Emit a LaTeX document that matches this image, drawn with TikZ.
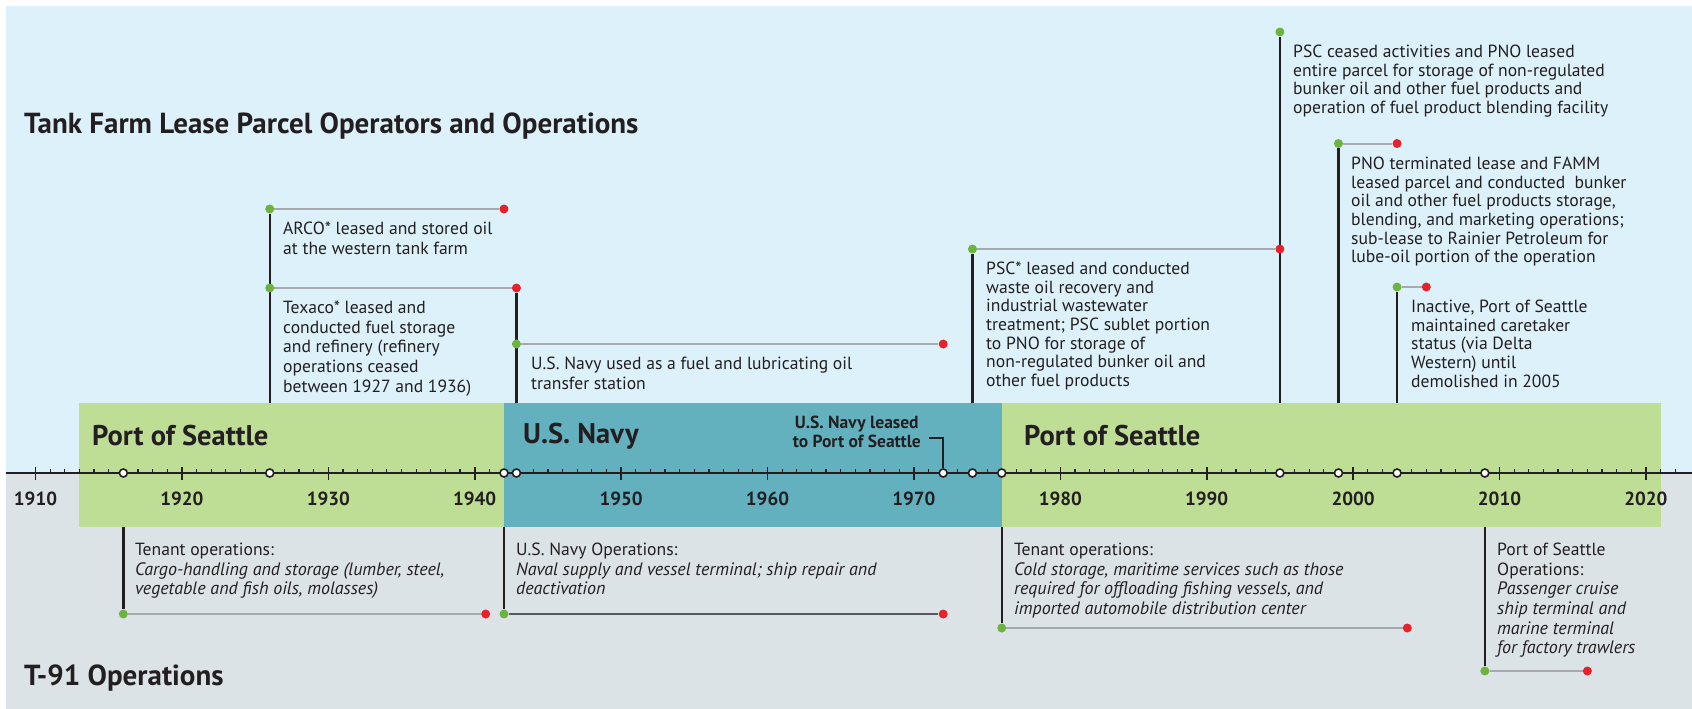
\documentclass[tikz,border=0pt]{standalone}
\usepackage{fontspec}
\setmainfont{PT Sans}
\pgfdeclarelayer{back}
\pgfdeclarelayer{links}
\pgfdeclarelayer{band}
\pgfdeclarelayer{axis}
\pgfsetlayers{back,links,band,axis,main}
\definecolor{skyback}{HTML}{DDF1FA}
\definecolor{greyback}{HTML}{DCE3E7}
\definecolor{portgreen}{HTML}{BEDD95}
\definecolor{navyteal}{HTML}{63B0BF}
\definecolor{dotgreen}{HTML}{6DB33F}
\definecolor{dotred}{HTML}{E8202A}
\definecolor{linkgrey}{HTML}{A7A9AC}
\definecolor{navylink}{HTML}{58595B}
\definecolor{ink}{HTML}{231F20}
% horizontal position of a year on the time axis
\newcommand\yx[1]{(35.5+14.64*(#1-1910))}
% italic description lines of the operations
\newcommand\opit[1]{{\fontsize{18}{19.6}\selectfont\itshape #1}}
\begin{document}
\begin{tikzpicture}[x=1pt,y=-1pt,
  vline/.style={line width=2.4pt, draw=ink},
  hline/.style={line width=2pt, draw=linkgrey},
  navyline/.style={line width=1.6pt, draw=navylink},
  gdot/.style={circle, fill=dotgreen, inner sep=0pt, minimum size=9pt},
  rdot/.style={circle, fill=dotred, inner sep=0pt, minimum size=9pt},
  odot/.style={circle, draw=ink, fill=white, line width=1.6pt, inner sep=0pt, minimum size=8pt},
  note/.style={anchor=north west, inner sep=0pt, align=left, text=ink,
    font=\fontsize{17.6}{19.6}\selectfont},
  tightnote/.style={note, font=\fontsize{17.6}{18.6}\selectfont},
  heading/.style={anchor=west, inner sep=0pt, text=ink,
    font=\fontsize{29}{34}\bfseries},
  bandlbl/.style={anchor=west, inner sep=0pt, text=ink,
    font=\fontsize{28.5}{34}\bfseries},
  yearlbl/.style={inner sep=0pt, text=ink, font=\fontsize{19}{22}\bfseries},
]
\useasboundingbox (0,0) rectangle (1692,709);

% backgrounds
\begin{pgfonlayer}{back}
  \fill[white] (0,0) rectangle (1692,709);
  \fill[skyback] (6,6) rectangle (1692,473);
  \fill[greyback] (6,473) rectangle (1692,709);
\end{pgfonlayer}

% ownership bands
\begin{pgfonlayer}{band}
  \fill[portgreen] ({\yx{1913}},403) rectangle ({\yx{1942}},527);
  \fill[navyteal] ({\yx{1942}},403) rectangle ({\yx{1976}},527);
  \fill[portgreen] ({\yx{1976}},403) rectangle ({\yx{2021}},527);
\end{pgfonlayer}

% time axis with yearly ticks
\begin{pgfonlayer}{axis}
  \draw[line width=2.4pt, ink] (6,473) -- (1692,473);
  \foreach \k in {1910,...,2022}
    \draw[line width=1.2pt, ink] ({\yx{\k}},473) -- ({\yx{\k}},468.5);
  \foreach \k in {1910,1920,...,2020}
    \draw[line width=1.6pt, ink] ({\yx{\k}},467) -- ({\yx{\k}},479.5);
\end{pgfonlayer}
\foreach \k in {1910,1920,...,2020}
  \node[yearlbl] (yr\k) at ({\yx{\k}},499) {\k};

% headings
\node[heading] (tankhead) at (24,126) {Tank Farm Lease Parcel Operators and Operations};
\node[heading] (t91head) at (24,678) {T-91 Operations};

% band labels
\node[bandlbl] (port1) at (92,436) {Port of Seattle};
\node[bandlbl] (navy) at (523,436) {U.S. Navy};
\node[bandlbl] (port2) at (1024,436) {Port of Seattle};
\node[inner sep=0pt, align=center, text=ink, anchor=east,
  font=\fontsize{17.5}{19}\bfseries] (leasedT) at (921,432)
  {U.S. Navy leased\\to Port of Seattle};
\coordinate (brk) at (929,438);

% event markers on the axis
\node[odot] (c1916) at ({\yx{1916}},473) {};
\node[odot] (c1926) at ({\yx{1926}},473) {};
\node[odot] (c1942) at ({\yx{1942}},473) {};
\node[odot] (c1943) at ({\yx{1942.85}},473) {};
\node[odot] (c1972) at ({\yx{1972}},473) {};
\node[odot] (c1974) at ({\yx{1974}},473) {};
\node[odot] (c1976) at ({\yx{1976}},473) {};
\node[odot] (c1995) at ({\yx{1995}},473) {};
\node[odot] (c1999) at ({\yx{1999}},473) {};
\node[odot] (c2003) at ({\yx{2003}},473) {};
\node[odot] (c2009) at ({\yx{2009}},473) {};

% tank farm lease periods (start and end)
\node[gdot] (arcoS) at ({\yx{1926}},209) {};
\node[rdot] (arcoE) at ({\yx{1942}},209) {};
\node[gdot] (texS) at ({\yx{1926}},288) {};
\node[rdot] (texE) at ({\yx{1942.85}},288) {};
\node[gdot] (navyS) at ({\yx{1942.85}},344) {};
\node[rdot] (navyE) at ({\yx{1972}},344) {};
\node[gdot] (pscS) at ({\yx{1974}},249) {};
\node[rdot] (pscE) at ({\yx{1995}},249) {};
\node[gdot] (ceaseS) at ({\yx{1995}},32) {};
\node[gdot] (pnoS) at ({\yx{1999}},143.5) {};
\node[rdot] (pnoE) at ({\yx{2003}},143.5) {};
\node[gdot] (inactS) at ({\yx{2003}},287) {};
\node[rdot] (inactE) at ({\yx{2005}},287) {};

% T-91 operation periods
\node[gdot] (ten1S) at ({\yx{1916}},614) {};
\node[rdot] (ten1E) at ({\yx{1940.75}},614) {};
\node[gdot] (opsNS) at ({\yx{1942}},614) {};
\node[rdot] (opsNE) at ({\yx{1972}},614) {};
\node[gdot] (ten2S) at ({\yx{1976}},628) {};
\node[rdot] (ten2E) at ({\yx{2003.7}},628) {};
\node[gdot] (posS) at ({\yx{2009}},671) {};
\node[rdot] (posE) at ({\yx{2016}},671) {};

\begin{pgfonlayer}{links}
  \draw[hline] (arcoS) -- (arcoE);
  \draw[hline] (texS) -- (texE);
  \draw[hline] (navyS) -- (navyE);
  \draw[hline] (pscS) -- (pscE);
  \draw[hline] (pnoS) -- (pnoE);
  \draw[hline] (inactS) -- (inactE);
  \draw[vline] (arcoS) -- (c1926);
  \draw[vline] (texE) -- (c1943);
  \draw[vline] (pscS) -- (c1974);
  \draw[vline] (ceaseS) -- (c1995);
  \draw[vline] (pnoS) -- (c1999);
  \draw[vline] (inactS) -- (c2003);
  \draw[hline] (ten1S) -- (ten1E);
  \draw[navyline] (opsNS) -- (opsNE);
  \draw[hline] (ten2S) -- (ten2E);
  \draw[hline] (posS) -- (posE);
  \draw[vline] (c1916) -- (ten1S);
  \draw[vline] (c1942) -- (opsNS);
  \draw[vline] (c1976) -- (ten2S);
  \draw[vline] (c2009) -- (posS);
\end{pgfonlayer}
\begin{pgfonlayer}{axis}
  \draw[line width=1.6pt, ink] (brk) -| (c1972);
\end{pgfonlayer}

% lease descriptions
\node[note] (arcoT) at (283,222) {ARCO* leased and stored oil\\at the western tank farm};
\node[note] (texT) at (283,301) {Texaco* leased and\\conducted fuel storage\\and refinery (refinery\\operations ceased\\between 1927 and 1936)};
\node[note] (navyT) at (531,357) {U.S. Navy used as a fuel and lubricating oil\\transfer station};
\node[tightnote] (pscT) at (986,262) {PSC* leased and conducted\\waste oil recovery and\\industrial wastewater\\treatment; PSC sublet portion\\to PNO for storage of\\non-regulated bunker oil and\\other fuel products};
\node[tightnote] (ceaseT) at (1293,45) {PSC ceased activities and PNO leased\\entire parcel for storage of non-regulated\\bunker oil and other fuel products and\\operation of fuel product blending facility};
\node[tightnote] (pnoT) at (1351,157) {PNO terminated lease and FAMM\\leased parcel and conducted\ \ bunker\\oil and other fuel products storage,\\blending, and marketing operations;\\sub-lease to Rainier Petroleum for\\lube-oil portion of the operation};
\node[tightnote] (inactT) at (1411,300) {Inactive, Port of Seattle\\maintained caretaker\\status (via Delta\\Western) until\\demolished in 2005};

% operation descriptions
\node[note] (ten1T) at (135,543) {Tenant operations:\\\opit{Cargo-handling and storage (lumber, steel,}\\\opit{vegetable and fish oils, molasses)}};
\node[note] (opsNT) at (516,543) {U.S. Navy Operations:\\\opit{Naval supply and vessel terminal; ship repair and}\\\opit{deactivation}};
\node[note] (ten2T) at (1014,543) {Tenant operations:\\\opit{Cold storage, maritime services such as those}\\\opit{required for offloading fishing vessels, and}\\\opit{imported automobile distribution center}};
\node[note] (posT) at (1497,543) {Port of Seattle\\Operations:\\\opit{Passenger cruise}\\\opit{ship terminal and}\\\opit{marine terminal}\\\opit{for factory trawlers}};
\end{tikzpicture}
\end{document}
